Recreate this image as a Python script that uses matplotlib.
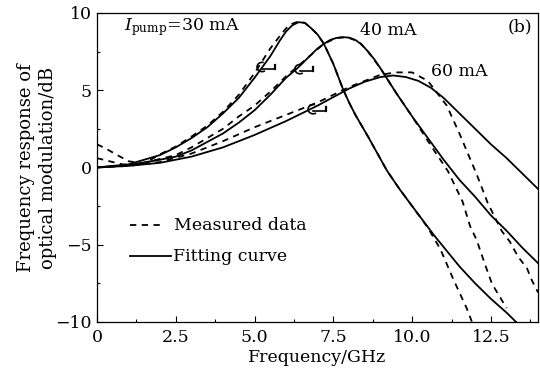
import numpy as np
import matplotlib
matplotlib.use("Agg")
import matplotlib.pyplot as plt
from matplotlib.patches import Arc

plt.rcParams['font.family'] = ['DejaVu Serif']
plt.rcParams['mathtext.fontset'] = 'dejavuserif'

# Fitting curves (frequency GHz, response dB)
fit30_f = [0, 1, 2, 2.5, 3, 3.5, 4, 4.5, 5, 5.5, 5.8, 6.0, 6.2, 6.4, 6.6, 6.8, 7.0, 7.2, 7.5, 7.8, 8.0, 8.2, 8.6, 9.2, 9.6, 10, 10.7, 11.5, 12, 12.5, 13, 13.3]
fit30_v = [0, 0.2, 0.8, 1.3, 1.9, 2.6, 3.5, 4.5, 5.8, 7.2, 8.2, 8.8, 9.2, 9.4, 9.35, 9.0, 8.6, 8.0, 6.7, 5.1, 4.2, 3.4, 2.0, -0.2, -1.4, -2.5, -4.4, -6.4, -7.5, -8.5, -9.4, -10]
fit40_f = [0, 1, 2, 2.5, 3, 4, 4.5, 5, 5.5, 6, 6.35, 6.8, 7.0, 7.2, 7.4, 7.6, 7.8, 8.0, 8.2, 8.4, 8.6, 8.8, 9.0, 9.5, 10, 10.5, 11, 11.5, 12, 12.5, 13, 13.5, 14]
fit40_v = [0, 0.15, 0.5, 0.7, 1.1, 2.2, 2.9, 3.7, 4.7, 5.8, 6.4, 7.3, 7.7, 8.0, 8.25, 8.38, 8.43, 8.4, 8.25, 7.95, 7.5, 7.0, 6.4, 4.8, 3.3, 1.9, 0.5, -0.8, -1.9, -3.1, -4.1, -5.2, -6.2]
fit60_f = [0, 1, 2, 3, 4, 5, 6, 7, 8, 8.5, 9, 9.4, 9.8, 10.2, 10.6, 11, 11.5, 12, 12.5, 13, 13.5, 14]
fit60_v = [0, 0.1, 0.3, 0.7, 1.3, 2.1, 3.0, 4.0, 5.1, 5.55, 5.85, 5.95, 5.85, 5.6, 5.15, 4.5, 3.5, 2.5, 1.5, 0.6, -0.4, -1.4]

# Measured data
meas30_f = [0, 0.3, 0.6, 1.0, 1.5, 2, 2.5, 3, 3.5, 4, 4.5, 5, 5.5, 5.8, 6.0, 6.2, 6.4, 6.6, 6.8, 7.0, 7.2, 7.5, 7.8, 8.0, 8.2, 8.6, 9.2, 9.6, 10, 10.5, 10.9, 11.3, 11.73, 11.9]
meas30_v = [1.5, 1.2, 0.85, 0.4, 0.25, 0.85, 1.35, 2.0, 2.7, 3.6, 4.7, 6.1, 7.7, 8.5, 9.0, 9.3, 9.45, 9.35, 9.0, 8.6, 8.0, 6.7, 5.1, 4.2, 3.4, 2.0, -0.2, -1.4, -2.5, -3.9, -5.3, -7.2, -9.1, -10]
meas40_f = [0, 0.4, 0.8, 1.2, 2, 2.5, 3, 4, 4.5, 5, 5.5, 6, 6.35, 6.8, 7.2, 7.6, 7.94, 8.3, 8.6, 9.0, 9.5, 10, 10.6, 11.14, 11.6, 11.84, 12.05, 12.2, 12.37, 12.53, 12.73, 13.0]
meas40_v = [0.6, 0.4, 0.2, 0.15, 0.55, 0.8, 1.3, 2.5, 3.3, 4.0, 4.9, 5.9, 6.5, 7.3, 8.0, 8.38, 8.42, 8.15, 7.5, 6.4, 4.8, 3.3, 1.4, -0.25, -2.2, -3.8, -4.7, -5.6, -6.6, -7.5, -8.2, -9.1]
meas60_f = [0, 1, 2, 3, 4, 5, 6, 7, 8, 9, 9.5, 10, 10.5, 11.1, 11.5, 12.05, 12.4, 12.84, 13.1, 13.37, 13.64, 13.8, 14]
meas60_v = [0, 0.1, 0.35, 0.9, 1.7, 2.6, 3.4, 4.2, 5.2, 6.0, 6.15, 6.15, 5.6, 4.0, 2.2, -0.45, -2.3, -4.1, -4.8, -5.8, -6.5, -7.3, -8.1]

# hook annotation positions (frequency, dB)
hook_f = [5.24, 6.44, 6.86]
hook_v = [6.5, 6.36, 3.77]

x_ticks = [0, 2.5, 5.0, 7.5, 10.0, 12.5]
x_ticklabels = ["0", "2.5", "5.0", "7.5", "10.0", "12.5"]
y_ticks = [-10, -5, 0, 5, 10]
y_ticklabels = ["\u221210", "\u22125", "0", "5", "10"]

fig = plt.figure(figsize=(5.40, 3.68), dpi=100)
ax = fig.add_axes([0.1796, 0.125, 0.817, 0.840])

lw = 1.3
for f, v in [(fit30_f, fit30_v), (fit40_f, fit40_v), (fit60_f, fit60_v)]:
    ax.plot(f, v, color='black', lw=lw, solid_joinstyle='round')
for f, v in [(meas30_f, meas30_v), (meas40_f, meas40_v), (meas60_f, meas60_v)]:
    ax.plot(f, v, color='black', lw=lw, linestyle=(0, (3.5, 3)))

for hf, hv in zip(hook_f, hook_v):
    ax.add_patch(Arc((hf, hv), 0.32, 0.6, theta1=80, theta2=290, color='black', lw=1.2))
    ax.plot([hf, hf + 0.42], [hv - 0.12, hv - 0.12], color='black', lw=1.2)
    ax.plot([hf + 0.42, hf + 0.42], [hv - 0.12, hv + 0.12], color='black', lw=1.6)

ax.set_xlim(0, 14)
ax.set_ylim(-10, 10)
ax.set_xticks(x_ticks)
ax.set_xticklabels(x_ticklabels)
ax.set_yticks(y_ticks)
ax.set_yticklabels(y_ticklabels)
ax.set_xticks(np.arange(0, 14.01, 1.25), minor=True)
ax.set_yticks(np.arange(-10, 10.01, 2.5), minor=True)
ax.tick_params(which='both', direction='in', labelsize=12.5, top=False, right=False)
ax.tick_params(which='major', length=4, width=0.8)
ax.tick_params(which='minor', length=2, width=0.8)
ax.tick_params(axis='x', pad=5)
for s in ax.spines.values():
    s.set_linewidth(0.9)

ax.set_xlabel("Frequency/GHz", fontsize=12.5, labelpad=2)
ax.set_ylabel("Frequency response of\noptical modulation/dB", fontsize=13, labelpad=-1, linespacing=1.3)

ax.text(0.85, 9.1, r"$I_{\rm pump}$=30 mA", fontsize=12.5, va='center', ha='left')
ax.text(8.35, 8.85, "40 mA", fontsize=12.5, va='center', ha='left')
ax.text(10.6, 6.2, "60 mA", fontsize=12.5, va='center', ha='left')
ax.text(13.8, 9.1, "(b)", fontsize=12.5, va='center', ha='right')

# legend
ax.plot([1.05, 2.15], [-3.75, -3.75], color='black', lw=lw, linestyle=(0, (3.5, 3)))
ax.text(2.45, -3.75, "Measured data", fontsize=12.5, va='center', ha='left')
ax.plot([1.05, 2.35], [-5.75, -5.75], color='black', lw=lw)
ax.text(2.4, -5.75, "Fitting curve", fontsize=12.5, va='center', ha='left')

fig.savefig("out.png", dpi=100)
